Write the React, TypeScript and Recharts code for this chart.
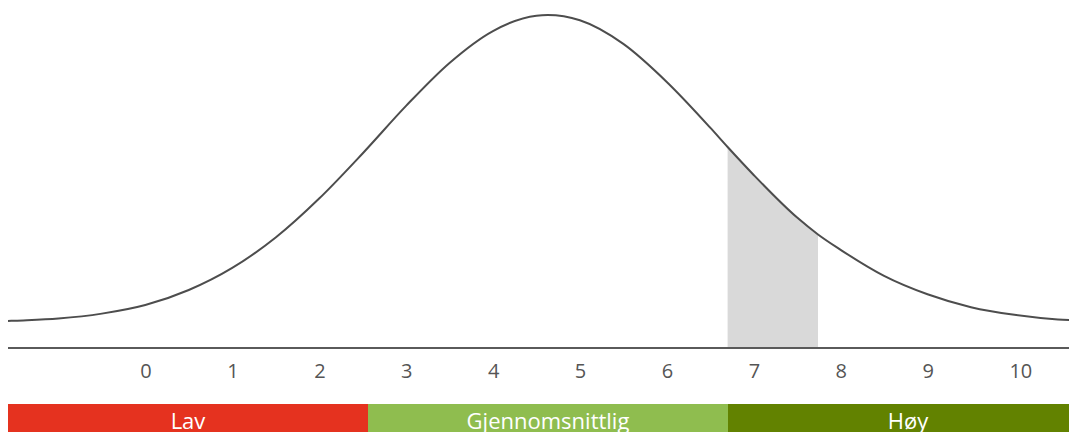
import { ComposedChart, Line, Area, XAxis, YAxis } from 'recharts';

const scorePoints = [-1.58, -1.5, -1, -0.5, 0, 0.5, 1, 1.5, 2, 2.5, 3, 3.5, 4, 4.5, 4.63, 5, 5.5, 6, 6.5, 6.7, 7, 7.5, 7.74, 8, 8.5, 9, 9.5, 10, 10.5, 10.72];
const curveValues = [0.3, 0.4, 1.1, 2.7, 5.5, 10.4, 17.6, 27.5, 40.2, 54.9, 70.4, 84.4, 94.8, 99.8, 100, 98.3, 90.6, 78.2, 63.3, 57.0, 47.9, 34.0, 28.5, 23.5, 15.0, 9.0, 4.8, 2.3, 0.8, 0.5];
const shadeValues = [null, null, null, null, null, null, null, null, null, null, null, null, null, null, null, null, null, null, null, 57.0, 47.9, 34.0, 28.5, null, null, null, null, null, null, null];
const tickValues = [0, 1, 2, 3, 4, 5, 6, 7, 8, 9, 10];
const bandLabels = ['Lav', 'Gjennomsnittlig', 'Høy'];
const bandColors = ['#e5321f', '#8fbd4f', '#628200'];

const X_MIN = -1.58;
const X_MAX = 10.72;
const Y_MIN = -8.5;
const Y_MAX = 102.3;

const data = scorePoints.map((x, i) => ({ x, curve: curveValues[i], shade: shadeValues[i] }));

const FONT = '"Open Sans", sans-serif';

function ScoreTick(props: any) {
  const { x, y, payload } = props;
  return (
    <text x={x - 5} y={y + 30} textAnchor="start" fill="#555" fontSize={20} fontFamily={FONT}>
      {payload.value}
    </text>
  );
}

export default function App() {
  return (
    <div style={{ width: 1069 }}>
      <ComposedChart width={1069} height={396} data={data} margin={{ top: 0, right: 0, left: 0, bottom: 0 }}>
        <XAxis
          dataKey="x"
          type="number"
          domain={[X_MIN, X_MAX]}
          ticks={tickValues}
          allowDataOverflow
          height={56}
          tickLine={false}
          tickSize={0}
          tickMargin={0}
          axisLine={{ stroke: '#5a5a5a', strokeWidth: 2 }}
          tick={<ScoreTick />}
          interval={0}
        />
        <YAxis hide domain={[Y_MIN, Y_MAX]} allowDataOverflow />
        <Area
          dataKey="shade"
          type="monotone"
          fill="#d9d9d9"
          fillOpacity={1}
          stroke="none"
          baseValue={Y_MIN}
          connectNulls={false}
          isAnimationActive={false}
        />
        <Line
          dataKey="curve"
          type="monotone"
          stroke="#4d4d4d"
          strokeWidth={2}
          dot={false}
          activeDot={false}
          isAnimationActive={false}
        />
      </ComposedChart>
      <div style={{ display: 'flex', width: 1069, height: 36, overflow: 'hidden' }}>
        {bandLabels.map((label, i) => (
          <div
            key={label}
            style={{
              flex: '0 0 360px',
              background: bandColors[i],
              color: '#fff',
              textAlign: 'center',
              fontFamily: FONT,
              fontSize: 22,
              lineHeight: '30px',
              paddingTop: 1,
            }}
          >
            {label}
          </div>
        ))}
      </div>
    </div>
  );
}
